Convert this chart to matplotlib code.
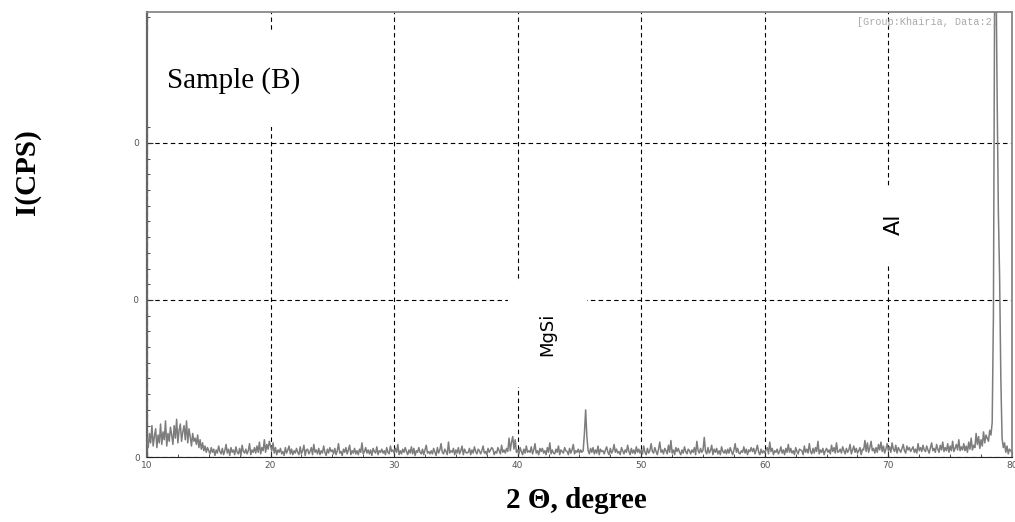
import matplotlib.pyplot as plt
import numpy as np
from matplotlib.patches import Rectangle

# XRD counts, 10 readings per degree (d.0 ... d.9)
rows = {
    10: [120, 60, 150, 90, 200, 70, 130, 180, 60, 140],
    11: [90, 210, 80, 160, 110, 230, 70, 150, 100, 190],
    12: [140, 80, 200, 120, 240, 90, 170, 210, 100, 160],
    13: [200, 110, 230, 90, 180, 130, 70, 150, 100, 120],
    14: [80, 140, 60, 110, 50, 90, 40, 70, 30, 60],
    15: [40, 20, 60, 30, 50, 10, 45, 25, 70, 35],
    16: [20, 55, 15, 40, 80, 25, 50, 10, 60, 30],
    17: [45, 15, 65, 30, 20, 55, 10, 75, 35, 25],
    18: [50, 20, 40, 85, 15, 45, 30, 60, 25, 70],
    19: [30, 95, 20, 60, 40, 110, 30, 80, 50, 100],
    20: [70, 40, 90, 25, 60, 15, 45, 30, 55, 20],
    21: [35, 10, 60, 25, 45, 70, 20, 50, 15, 40],
    22: [25, 55, 30, 15, 65, 20, 40, 75, 10, 45],
    23: [50, 20, 35, 60, 15, 80, 30, 45, 20, 55],
    24: [15, 40, 25, 70, 30, 10, 50, 25, 60, 35],
    25: [45, 20, 55, 15, 40, 85, 25, 35, 10, 50],
    26: [30, 60, 20, 45, 75, 15, 40, 25, 55, 20],
    27: [40, 15, 50, 30, 90, 20, 35, 60, 25, 45],
    28: [20, 45, 10, 55, 35, 25, 65, 15, 40, 30],
    29: [50, 25, 40, 15, 60, 30, 20, 70, 35, 45],
    30: [25, 55, 30, 80, 15, 40, 20, 50, 30, 60],
    31: [35, 15, 45, 25, 65, 20, 55, 10, 40, 30],
    32: [60, 30, 20, 50, 15, 45, 75, 25, 35, 20],
    33: [40, 20, 55, 30, 10, 60, 25, 45, 85, 30],
    34: [20, 50, 35, 15, 95, 25, 40, 30, 55, 15],
    35: [45, 25, 60, 20, 40, 70, 15, 50, 30, 25],
    36: [30, 55, 15, 45, 25, 65, 35, 20, 50, 40],
    37: [20, 40, 70, 25, 35, 15, 55, 30, 45, 60],
    38: [50, 15, 35, 25, 60, 40, 20, 75, 30, 45],
    39: [25, 55, 35, 120, 40, 95, 130, 50, 110, 30],
    40: [45, 20, 60, 35, 15, 50, 25, 70, 30, 40],
    41: [30, 65, 20, 45, 85, 25, 40, 15, 55, 35],
    42: [55, 25, 40, 15, 60, 30, 90, 20, 45, 25],
    43: [20, 50, 30, 70, 15, 45, 35, 25, 60, 40],
    44: [35, 15, 55, 25, 45, 80, 20, 40, 30, 50],
    45: [25, 45, 30, 40, 150, 300, 130, 40, 20, 55],
    46: [30, 60, 20, 45, 25, 70, 15, 50, 35, 40],
    47: [20, 45, 65, 30, 15, 55, 25, 40, 80, 30],
    48: [50, 25, 35, 15, 60, 40, 20, 45, 30, 75],
    49: [35, 15, 55, 25, 45, 20, 65, 30, 50, 25],
    50: [45, 20, 70, 30, 15, 55, 25, 40, 85, 35],
    51: [25, 60, 35, 15, 50, 95, 30, 45, 20, 55],
    52: [40, 20, 75, 30, 105, 25, 45, 15, 60, 35],
    53: [55, 30, 15, 45, 25, 65, 35, 20, 50, 40],
    54: [20, 45, 30, 60, 15, 100, 40, 25, 55, 30],
    55: [45, 125, 35, 20, 60, 25, 40, 75, 15, 50],
    56: [30, 55, 20, 40, 15, 65, 35, 25, 45, 20],
    57: [50, 25, 60, 35, 15, 45, 85, 30, 55, 25],
    58: [20, 40, 30, 65, 25, 50, 15, 45, 35, 60],
    59: [35, 55, 20, 45, 75, 30, 15, 50, 25, 40],
    60: [25, 45, 60, 20, 95, 35, 55, 15, 40, 30],
    61: [50, 20, 35, 65, 25, 45, 15, 55, 30, 80],
    62: [30, 55, 25, 40, 15, 60, 35, 20, 50, 45],
    63: [40, 15, 70, 30, 50, 25, 85, 35, 20, 55],
    64: [25, 60, 35, 100, 20, 45, 30, 55, 15, 40],
    65: [55, 30, 45, 20, 75, 35, 60, 25, 90, 30],
    66: [35, 50, 25, 65, 40, 20, 55, 30, 45, 80],
    67: [20, 45, 70, 30, 55, 25, 40, 60, 15, 50],
    68: [45, 105, 35, 90, 30, 60, 100, 40, 55, 25],
    69: [60, 30, 80, 45, 95, 35, 70, 25, 50, 85],
    70: [40, 65, 30, 90, 50, 35, 75, 25, 60, 45],
    71: [30, 55, 80, 40, 25, 70, 45, 60, 35, 50],
    72: [65, 30, 50, 25, 85, 40, 60, 35, 75, 45],
    73: [35, 70, 45, 25, 60, 90, 40, 55, 30, 80],
    74: [50, 30, 75, 45, 95, 35, 60, 40, 85, 30],
    75: [70, 40, 100, 35, 55, 80, 45, 110, 40, 65],
    76: [45, 85, 40, 70, 30, 95, 50, 120, 45, 75],
    77: [60, 150, 80, 130, 55, 110, 70, 160, 90, 140],
    78: [120, 100, 170, 140, 220, 900, 3000, 3200, 2300, 1560],
    79: [1150, 500, 120, 60, 90, 30, 70, 20, 50, 40],
}
last_count = 30  # at 80.0

two_theta = []
counts = []
for deg, vals in rows.items():
    for i, v in enumerate(vals):
        two_theta.append(deg + i / 10)
        counts.append(v)
two_theta.append(80.0)
counts.append(last_count)

x_ticks = [10, 20, 30, 40, 50, 60, 70, 80]
y_ticks = [0, 1000, 2000]
y_labels = ['0', '1000', '2000']

fig = plt.figure(figsize=(10.15, 5.22), dpi=100)
ax = fig.add_axes([0.1448, 0.1245, 0.8522, 0.8525])

ax.plot(two_theta, counts, color='#7d7d7d', linewidth=1.1, zorder=3)

ax.set_xlim(10, 80)
ax.set_ylim(0, 2834)
ax.set_xticks(x_ticks)
ax.set_xticks(np.arange(10, 80.1, 2.5), minor=True)
ax.set_yticks(y_ticks)
ax.set_yticklabels(y_labels)
ax.set_yticks(np.arange(0, 2834, 100), minor=True)
ax.tick_params(which='both', direction='in', labelsize=6.5, labelcolor='#555555',
               color='#333333', pad=3)
ax.tick_params(axis='y', which='both', pad=5, right=False)
ax.tick_params(which='major', length=4)
ax.tick_params(which='minor', length=2.5)

ax.set_axisbelow(True)
ax.grid(True, which='major', color='black', linestyle=(0, (4, 3)), linewidth=0.8)

for side in ['top', 'right']:
    ax.spines[side].set_color('#888888')
    ax.spines[side].set_linewidth(1.3)
ax.spines['left'].set_color('#666666')
ax.spines['left'].set_linewidth(1.6)
ax.spines['bottom'].set_color('#222222')

# annotations with white boxes hiding the grid behind them
ax.text(11.66, 2400, 'Sample (B)', fontsize=21, family='Liberation Serif',
        va='center', ha='left', zorder=1.8,
        bbox=dict(facecolor='white', edgecolor='none', pad=24))
ax.text(42.4, 780, 'MgSi', fontsize=13, family='DejaVu Sans', rotation=90,
        va='center', ha='center', zorder=1.8,
        bbox=dict(facecolor='white', edgecolor='none', pad=22))
ax.text(70.4, 1480, 'Al', fontsize=16, family='DejaVu Sans', rotation=90,
        va='center', ha='center', zorder=1.8,
        bbox=dict(facecolor='white', edgecolor='none', pad=20))
ax.text(0.984, 0.988, '[Group:Khairia, Data:2]', transform=ax.transAxes,
        fontsize=7.3, family='Liberation Mono', color='#aaaaaa',
        ha='right', va='top', zorder=4)

# the upper y labels are cut off in the original
fig.patches.append(Rectangle((0, 200 / 522), 134 / 1015, 200 / 522,
                             transform=fig.transFigure, facecolor='white',
                             edgecolor='none', zorder=1))

fig.text(27 / 1015, 1 - 172 / 522, 'I(CPS)', rotation=90, fontsize=21,
         fontweight='bold', family='Liberation Serif', ha='center', va='center',
         zorder=3)
fig.text(576 / 1015, 1 - 500 / 522, '2 \u0398, degree', fontsize=21,
         fontweight='bold', family='Liberation Serif', ha='center', va='center')

fig.savefig('out.png', dpi=100)
